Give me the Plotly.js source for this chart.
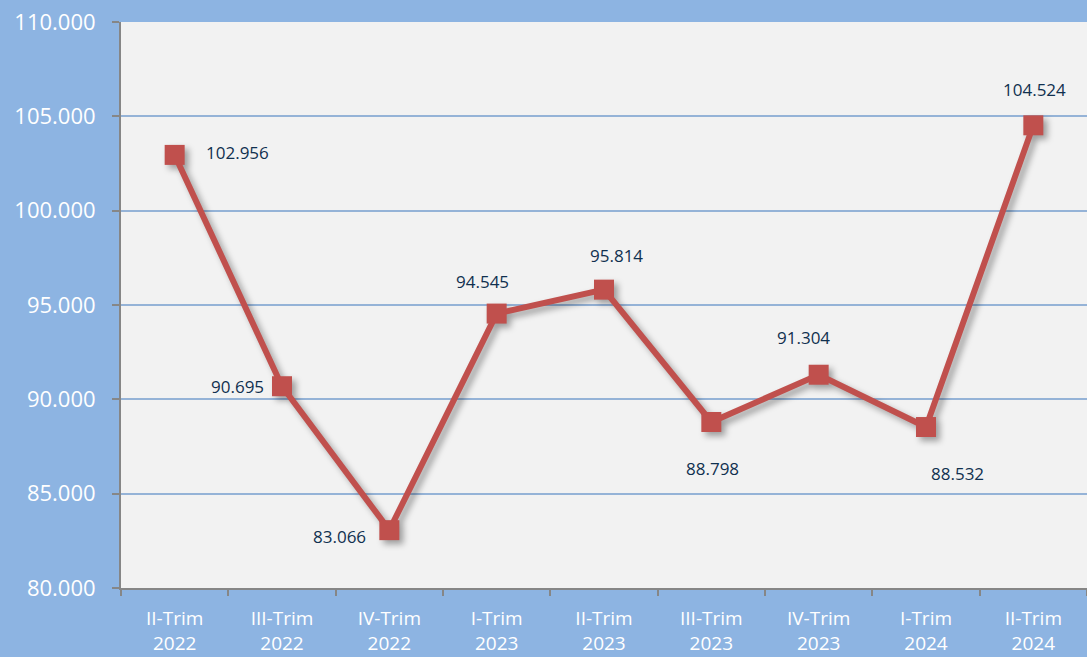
<!DOCTYPE html>
<html>
<head>
<meta charset="utf-8">
<script src="https://cdn.plot.ly/plotly-3.0.1.min.js"></script>
<style>
html,body{margin:0;padding:0;background:#8db4e2;}
#chart{width:1087px;height:657px;}
.scatterlayer .trace{filter:drop-shadow(4px 4px 3px rgba(0,0,0,0.35));}
</style>
</head>
<body>
<div id="chart"></div>
<script>
const categories = ["II-Trim<br>2022","III-Trim<br>2022","IV-Trim<br>2022","I-Trim<br>2023","II-Trim<br>2023","III-Trim<br>2023","IV-Trim<br>2023","I-Trim<br>2024","II-Trim<br>2024"];
const values = [102.956, 90.695, 83.066, 94.545, 95.814, 88.798, 91.304, 88.532, 104.524];
const labelText = ["102.956","90.695","83.066","94.545","95.814","88.798","91.304","88.532","104.524"];
const yTicks = [80, 85, 90, 95, 100, 105, 110];

// label offsets (pixels) relative to each point
const labelShift = [[63,2],[-45,0],[-50,-6],[-14,32],[12,34],[1,-46],[-15,37],[31,-46],[1,36]];

const annotations = values.map((v,i)=>({
  x: i, y: v, xref:'x', yref:'y', text: labelText[i], showarrow:false,
  xshift: labelShift[i][0], yshift: labelShift[i][1],
  font:{family:'Open Sans', size:17, color:'#10304f'}
}));

const trace = {
  x: categories.map((c,i)=>i), y: values, type:'scatter', mode:'lines+markers',
  line:{color:'#c0504d', width:6},
  marker:{symbol:'square', size:20, color:'#c0504d'},
  hoverinfo:'skip'
};

const layout = {
  width:1087, height:657,
  paper_bgcolor:'#8db4e2', plot_bgcolor:'#f2f2f2',
  margin:{l:121, r:0, t:22, b:69},
  showlegend:false,
  xaxis:{
    type:'linear', range:[-0.5, 8.5], tickmode:'array',
    tickvals: categories.map((c,i)=>i), ticktext: categories,
    showgrid:false, zeroline:false,
    showline:true, linecolor:'#868686', linewidth:2,
    ticks:'', ticklabelstandoff:12,
    tickfont:{family:'Open Sans', size:19, color:'#ffffff'}
  },
  xaxis2:{
    overlaying:'x', range:[-0.5, 8.5], tickmode:'array',
    tickvals:[-0.5,0.5,1.5,2.5,3.5,4.5,5.5,6.5,7.5,8.5], showticklabels:false,
    ticks:'outside', ticklen:7, tickwidth:2, tickcolor:'#868686',
    showgrid:false, zeroline:false, showline:false
  },
  yaxis:{
    range:[80,110], tickmode:'array', tickvals:yTicks,
    ticktext: yTicks.map(t=>t.toFixed(3)),
    showgrid:true, gridcolor:'#95b3d7', gridwidth:2,
    zeroline:false, showline:true, linecolor:'#868686', linewidth:2,
    ticks:'outside', ticklen:7, tickwidth:2, tickcolor:'#868686',
    ticklabelstandoff:12,
    tickfont:{family:'Open Sans', size:22, color:'#ffffff'}
  },
  annotations: annotations
};

const dummy = {x:[-0.5], y:[80], xaxis:'x2', type:'scatter', mode:'markers', marker:{opacity:0}, hoverinfo:'skip'};

Plotly.newPlot('chart', [trace, dummy], layout, {displayModeBar:false, staticPlot:true});
</script>
</body>
</html>
